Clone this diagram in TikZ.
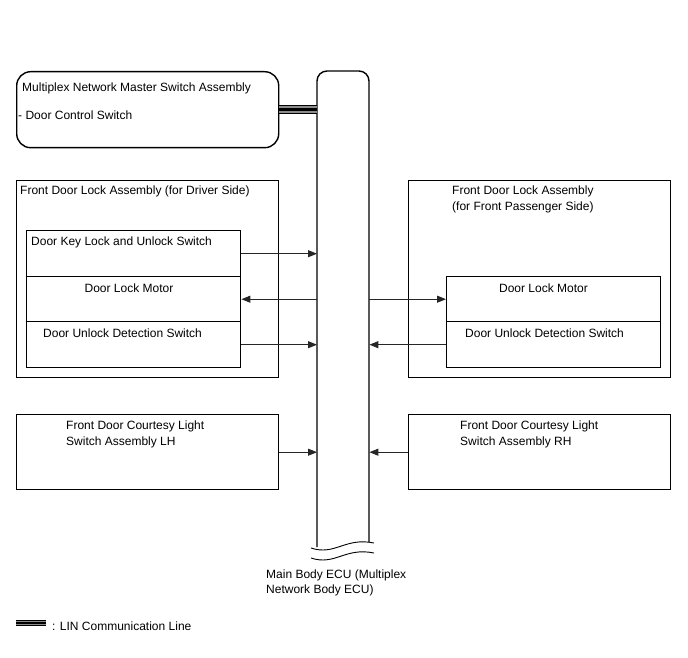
\documentclass[tikz,border=0pt]{standalone}
\usepackage{fontspec}
\setmainfont{Liberation Sans}
\usetikzlibrary{arrows.meta}
\begin{document}
\begin{tikzpicture}[x=1pt,y=-1pt,
  box/.style={draw=black,line width=1.4pt,rectangle,inner sep=0pt,anchor=north west},
  txt/.style={font=\fontsize{12}{14}\selectfont,inner sep=0pt,anchor=base west},
  ctxt/.style={font=\fontsize{12}{14}\selectfont,inner sep=0pt,anchor=base},
  arr/.style={draw=black!85,line width=0.9pt,-{Triangle[length=9pt,width=7pt]}},
]
\useasboundingbox (0,0) rectangle (688,658);
% ECU column
\node[inner sep=0pt,minimum width=52,minimum height=476,anchor=north west] (ecu) at (317,71) {};
\draw[line width=1.4pt,rounded corners=10pt] (317,547) -- (317,71) -- (369,71) -- (369,542);
\draw[line width=0.9pt] (311,548) .. controls (335,556) and (345,537) .. (374,543);
\draw[line width=0.9pt] (311,558) .. controls (335,566) and (345,547) .. (374,553);
\node[txt] (ecu1) at (266,578) {Main Body ECU (Multiplex};
\node[txt] (ecu2) at (266,593) {Network Body ECU)};
% master switch
\node[box,rounded corners=14pt,minimum width=262,minimum height=76] (master) at (16,71) {};
\node[txt] (m1) at (22,92) {Multiplex Network Master Switch Assembly};
\node[txt] (m2) at (18,120) {- Door Control Switch};
\draw[line width=9pt,black] (master.east) -- (master.east -| ecu.west);
\draw[line width=7pt,black!45] (master.east) -- (master.east -| ecu.west);
\draw[line width=3.5pt,black] (master.east) -- (master.east -| ecu.west);
% left lock assembly
\node[box,minimum width=262,minimum height=197] (lockL) at (16,180) {};
\node[txt] (lockLt) at (20,194) {Front Door Lock Assembly (for Driver Side)};
\node[box,minimum width=214,minimum height=46] (keysw) at (26,230) {};
\node[box,minimum width=214,minimum height=45] (motorL) at (26,276) {};
\node[box,minimum width=214,minimum height=46] (unlockL) at (26,321) {};
\node[txt] (keyswt) at (31,245) {Door Key Lock and Unlock Switch};
\node[ctxt] (motorLt) at (129,292) {Door Lock Motor};
\node[txt] (unlockLt) at (43,337) {Door Unlock Detection Switch};
\draw[arr] (keysw.east) -- (keysw.east -| ecu.west);
\draw[arr] (motorL.east -| ecu.west) -- (motorL.east);
\draw[arr] (unlockL.east) -- (unlockL.east -| ecu.west);
% right lock assembly
\node[box,minimum width=262,minimum height=197] (lockR) at (408,180) {};
\node[txt] (lockRt1) at (452,194) {Front Door Lock Assembly};
\node[txt] (lockRt2) at (452,210) {(for Front Passenger Side)};
\node[box,minimum width=214,minimum height=45] (motorR) at (446,276) {};
\node[box,minimum width=214,minimum height=46] (unlockR) at (446,321) {};
\node[ctxt] (motorRt) at (543.5,292) {Door Lock Motor};
\node[txt] (unlockRt) at (465,337) {Door Unlock Detection Switch};
\draw[arr] (motorR.west -| ecu.east) -- (motorR.west);
\draw[arr] (unlockR.west) -- (unlockR.west -| ecu.east);
% courtesy switches
\node[box,minimum width=262,minimum height=75] (courL) at (16,414) {};
\node[txt] (courLt1) at (66,429) {Front Door Courtesy Light};
\node[txt] (courLt2) at (66,445) {Switch Assembly LH};
\node[box,minimum width=262,minimum height=75] (courR) at (408,414) {};
\node[txt] (courRt1) at (460,429) {Front Door Courtesy Light};
\node[txt] (courRt2) at (460,445) {Switch Assembly RH};
\draw[arr] (courL.east) -- (courL.east -| ecu.west);
\draw[arr] (courR.west) -- (courR.west -| ecu.east);
% legend
\coordinate (lg1) at (16,623);
\coordinate (lg2) at (46,623);
\draw[line width=6pt,black] (lg1) -- (lg2);
\draw[line width=4.5pt,black!45] (lg1) -- (lg2);
\draw[line width=2.5pt,black] (lg1) -- (lg2);
\node[txt] (lgt) at (52,630) {: LIN Communication Line};
\end{tikzpicture}
\end{document}
